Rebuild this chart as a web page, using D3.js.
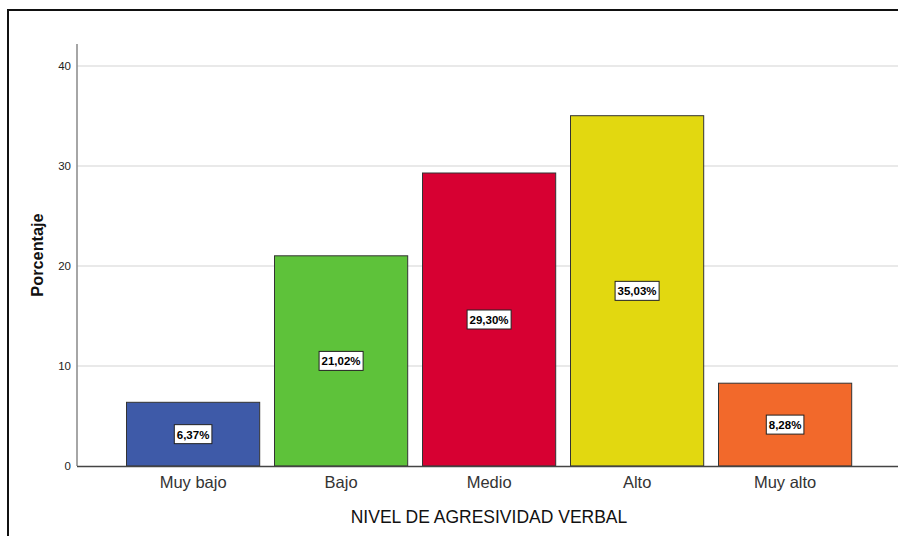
<!DOCTYPE html>
<html><head><meta charset="utf-8">
<script src="https://cdn.jsdelivr.net/npm/d3@7"></script>
<style>body{margin:0;background:#fff}svg{display:block}text{font-family:"Liberation Sans",Arial,sans-serif}</style>
</head><body>
<svg id="c" width="898" height="536"></svg>
<script>
const categories = ["Muy bajo","Bajo","Medio","Alto","Muy alto"];
const values = [6.37, 21.02, 29.30, 35.03, 8.28];
const valueLabels = ["6,37%","21,02%","29,30%","35,03%","8,28%"];
const colors = ["#3E5AA8","#5EC23A","#D70032","#E2D810","#F2692B"];
const yTicks = [0,10,20,30,40];
const xTitle = "NIVEL DE AGRESIVIDAD VERBAL";
const yTitle = "Porcentaje";

const svg = d3.select("#c");
// frame
svg.append("line").attr("x1",7).attr("x2",898).attr("y1",10).attr("y2",10).attr("stroke","#111").attr("stroke-width",2);
svg.append("line").attr("x1",8).attr("x2",8).attr("y1",9).attr("y2",536).attr("stroke","#111").attr("stroke-width",2);

const y = d3.scaleLinear().domain([0,40]).range([466,66]);
const x = d3.scaleBand().domain(categories).range([118.6,858.6]).paddingInner(0.1).paddingOuter(0.05);
const xLeft = 77, xRight = 898;

// grid
svg.append("g").selectAll("line").data(yTicks.filter(d=>d>0)).join("line")
  .attr("x1",xLeft).attr("x2",xRight).attr("y1",d=>y(d)).attr("y2",d=>y(d))
  .attr("stroke","#d4d4d4").attr("stroke-width",1.2);

// y axis
const ya = svg.append("g").attr("transform",`translate(${xLeft},0)`)
  .call(d3.axisLeft(y).tickValues(yTicks).tickSize(0).tickPadding(6).tickFormat(d3.format("d")));
ya.select(".domain").remove();
ya.selectAll("text").attr("font-size",11.5).attr("fill","#222").attr("font-family","Liberation Sans, Arial, sans-serif");
svg.append("line").attr("x1",xLeft).attr("x2",xLeft).attr("y1",y(42.2)).attr("y2",y(0)).attr("stroke","#888").attr("stroke-width",1.5);

// bars
svg.append("g").selectAll("rect").data(values).join("rect")
  .attr("x",(d,i)=>x(categories[i])+0.5).attr("width",x.bandwidth())
  .attr("y",d=>y(d)).attr("height",d=>y(0)-y(d))
  .attr("fill",(d,i)=>colors[i]).attr("stroke","#333").attr("stroke-width",1);

// baseline
svg.append("line").attr("x1",xLeft).attr("x2",xRight).attr("y1",y(0)+0.5).attr("y2",y(0)+0.5).attr("stroke","#444").attr("stroke-width",1.5);

// x axis labels
const xa = svg.append("g").attr("transform",`translate(0.5,${y(0)})`)
  .call(d3.axisBottom(x).tickSize(0).tickPadding(10));
xa.select(".domain").remove();
xa.selectAll("text").attr("font-size",16.5).attr("fill","#333").attr("font-family","Liberation Sans, Arial, sans-serif");

// value labels
const lg = svg.append("g");
values.forEach((v,i)=>{
  const cx = x(categories[i]) + x.bandwidth()/2 + 0.5;
  const cy = y(v/2);
  const g = lg.append("g");
  const t = g.append("text").attr("x",cx).attr("y",cy+4.5).attr("text-anchor","middle")
    .attr("font-size",11.5).attr("font-weight","bold").attr("fill","#000")
    .style("font-family","'Liberation Sans Narrow','Arial Narrow','Liberation Sans',sans-serif").text(valueLabels[i]);
  const bb = t.node().getBBox();
  g.insert("rect","text").attr("x",bb.x-2.5).attr("y",cy-9.5).attr("width",bb.width+5).attr("height",19)
    .attr("fill","#fff").attr("stroke","#222").attr("stroke-width",1);
});

// titles
svg.append("text").attr("x",489).attr("y",523).attr("text-anchor","middle").attr("font-size",17.5).attr("fill","#111").text(xTitle);
svg.append("text").attr("transform","translate(43,255) rotate(-90)").attr("text-anchor","middle")
  .attr("font-size",16.3).attr("font-weight","bold").attr("fill","#111").text(yTitle);
</script>
</body></html>
